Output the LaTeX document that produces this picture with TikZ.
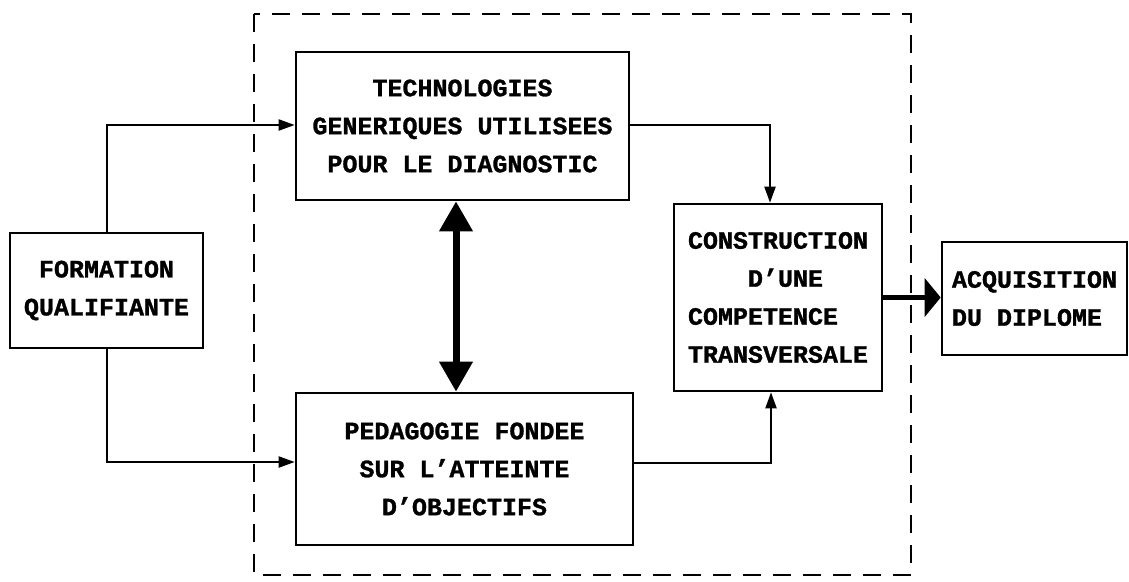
\documentclass[tikz,border=0pt]{standalone}
\usepackage{fontspec}
\setmainfont{Liberation Mono}[BoldFeatures={FakeBold=1.2}]
\usetikzlibrary{arrows.meta,calc}
\newcommand\apos{\symbol{39}}
\tikzset{
  box/.style={draw,line width=2.6pt,inner sep=0pt,font=\fontsize{25}{38}\selectfont\bfseries},
  arr/.style={line width=2pt,-{Triangle[length=16pt,width=11pt]}},
  dbl/.style={line width=7pt,{Triangle[length=30pt,width=32pt]}-{Triangle[length=30pt,width=32pt]}},
  bigarr/.style={line width=5pt,-{Triangle[length=16pt,width=38pt]}},
  frame/.style={line width=2.6pt,dash pattern=on 18pt off 12pt}
}
\begin{document}
\begin{tikzpicture}[x=1pt,y=-1pt]
\useasboundingbox (0,0) rectangle (1129,581);
\draw[frame] (254,14) rectangle (911,575);
\node[box,minimum width=333pt,minimum height=148pt,align=center] (tech) at (462.5,126)
  {TECHNOLOGIES\\GENERIQUES UTILISEES\\POUR LE DIAGNOSTIC};
\node[box,minimum width=337pt,minimum height=152pt,align=center] (ped) at (464.5,469)
  {PEDAGOGIE FONDEE\\SUR L\apos ATTEINTE\\D\apos OBJECTIFS};
\node[box,minimum width=208pt,minimum height=187pt,align=left] (cons) at (778,297.5)
  {CONSTRUCTION\\\phantom{XXXX}D\apos UNE\\COMPETENCE\\TRANSVERSALE};
\node[box,minimum width=185pt,minimum height=113pt,align=left] (acq) at (1034.5,298.5)
  {ACQUISITION\\DU DIPLOME\phantom{X}};
\node[box,minimum width=193pt,minimum height=115pt,align=center] (form) at (106.5,290.5)
  {FORMATION\\QUALIFIANTE};
\coordinate (tin) at ($(tech.west)+(0,-1)$);
\coordinate (pin) at ($(ped.west)+(0,-7)$);
\coordinate (tout) at ($(tech.east)+(0,-1)$);
\coordinate (pout) at ($(ped.east)+(0,-6)$);
\coordinate (ctop) at ($(cons.north)+(-8,0)$);
\coordinate (cbot) at ($(cons.south)+(-7,0)$);
\coordinate (dtop) at ($(tech.south)+(-6.5,0)$);
\coordinate (dbot) at (dtop |- ped.north);
\draw[arr] (form.north) |- (tin);
\draw[arr] (form.south) |- (pin);
\draw[arr] (tout) -| (ctop);
\draw[arr] (pout) -| (cbot);
\draw[dbl] (dtop) -- (dbot);
\draw[bigarr] (cons.east) -- (cons.east -| acq.west);
\end{tikzpicture}
\end{document}
